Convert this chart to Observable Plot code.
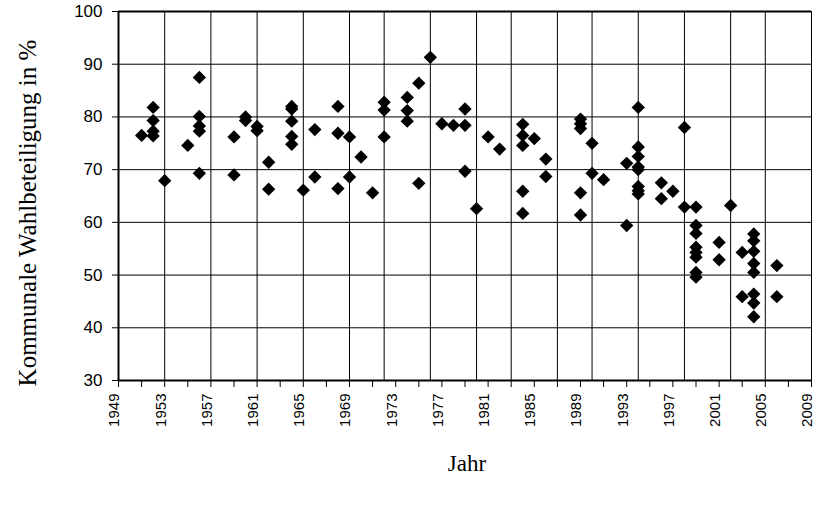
<!DOCTYPE html>
<html><head><meta charset="utf-8">
<script src="https://cdn.jsdelivr.net/npm/d3@7"></script>
<script src="https://cdn.jsdelivr.net/npm/@observablehq/plot@0.6"></script>
<style>body{margin:0;background:#fff}</style>
</head><body><div id="chart"></div>
<script>
// Election year of each municipal election
const years = [
  1951,
  1952,1952,1952,1952,
  1953,
  1955,
  1956,1956,1956,1956,1956,
  1959,1959,
  1960,1960,
  1961,1961,
  1962,1962,
  1964,1964,1964,1964,1964,
  1965,
  1966,1966,
  1968,1968,1968,
  1969,1969,
  1970,
  1971,
  1972,1972,1972,
  1974,1974,1974,
  1975,1975,
  1976,
  1977,
  1978,
  1979,1979,1979,
  1980,
  1981,
  1982,
  1984,1984,1984,1984,1984,
  1985,
  1986,1986,
  1989,1989,1989,1989,1989,
  1990,1990,
  1991,
  1993,1993,
  1994,1994,1994,1994,1994,1994,1994,1994,
  1996,1996,
  1997,
  1998,1998,
  1999,1999,1999,1999,1999,1999,1999,1999,
  2001,2001,
  2002,
  2003,2003,
  2004,2004,2004,2004,2004,2004,2004,2004,
  2006,2006
];
// Municipal turnout in % (same order)
const turnout = [
  76.5,
  81.8,79.3,77.3,76.4,
  67.9,
  74.6,
  87.5,80.1,78.3,77.3,69.3,
  76.2,69.0,
  80.0,79.3,
  78.2,77.4,
  71.4,66.3,
  82.0,81.5,79.2,76.3,74.8,
  66.1,
  77.6,68.6,
  82.0,76.9,66.4,
  76.2,68.6,
  72.4,
  65.6,
  82.8,81.3,76.2,
  83.7,81.2,79.2,
  86.4,67.4,
  91.3,
  78.7,
  78.4,
  81.5,78.4,69.7,
  62.6,
  76.2,
  73.9,
  78.6,76.5,74.6,65.9,61.7,
  75.9,
  72.0,68.7,
  79.6,78.7,77.8,65.6,61.4,
  75.0,69.3,
  68.1,
  71.2,59.4,
  81.8,74.3,72.5,70.5,70.0,66.8,66.0,65.4,
  67.5,64.5,
  65.9,
  78.0,62.9,
  62.9,59.4,57.9,55.3,54.3,53.4,50.5,49.6,
  56.2,52.9,
  63.2,
  54.3,45.9,
  57.8,56.5,54.5,52.2,50.5,46.4,44.7,42.1,
  51.8,45.9
];
// Vertical grid lines (federal election years)
const gridYears = [1953,1957,1961,1965,1969,1972,1976,1980,1983,1987,1990,1994,1998,2002,2005,2009];
const yTicks = [30,40,50,60,70,80,90,100];
const xTicks = [1949,1951,1953,1955,1957,1959,1961,1963,1965,1967,1969,1971,1973,1975,1977,1979,1981,1983,1985,1987,1989,1991,1993,1995,1997,1999,2001,2003,2005,2007,2009];
const xTickLabels = [1949,1953,1957,1961,1965,1969,1973,1977,1981,1985,1989,1993,1997,2001,2005,2009];
const yTitle = "Kommunale Wahlbeteiligung in %";
const xTitle = "Jahr";

const data = years.map((y, i) => ({year: y, value: turnout[i]}));

const chart = Plot.plot({
  width: 814,
  height: 505,
  marginLeft: 118,
  marginRight: 3,
  marginTop: 11,
  marginBottom: 125,
  style: {background: "white", overflow: "visible"},
  x: {domain: [1949, 2009], label: null},
  y: {domain: [30, 100], label: null},
  marks: [
    Plot.ruleY(yTicks.filter(d => d > 30 && d < 100), {stroke: "black", strokeWidth: 1}),
    Plot.ruleX(gridYears, {stroke: "black", strokeWidth: 1}),
    Plot.ruleY([100], {stroke: "black", strokeWidth: 2}),
    Plot.ruleY([30], {stroke: "black", strokeWidth: 2}),
    Plot.ruleX([1949], {stroke: "black", strokeWidth: 2}),
    Plot.axisY({ticks: yTicks, tickSize: 6, tickPadding: 10, fontSize: 17, fontFamily: "Liberation Sans", stroke: "black", color: "black", label: null}),
    Plot.axisX({ticks: xTicks, tickSize: 7, tickFormat: () => "", stroke: "black", label: null}),
    Plot.axisX({ticks: xTickLabels, tickSize: 0, tickPadding: 13, tickRotate: -90, dx: -4, fontSize: 15, fontFamily: "Liberation Sans",
      tickFormat: d => String(d), fill: "black", label: null}),
    Plot.dot(data, {x: "year", y: "value", symbol: "diamond2", r: 6, fill: "black", stroke: "none"}),
    Plot.text([yTitle], {frameAnchor: "left", textAnchor: "middle", rotate: -90, dx: -91, dy: 17, fontSize: 25, fontFamily: "Liberation Serif", fill: "black"}),
    Plot.text([xTitle], {frameAnchor: "bottom", dy: 90, dx: 2, fontSize: 23, fontFamily: "Liberation Serif", fill: "black"})
  ]
});
document.getElementById("chart").appendChild(chart);
</script>
</body></html>
